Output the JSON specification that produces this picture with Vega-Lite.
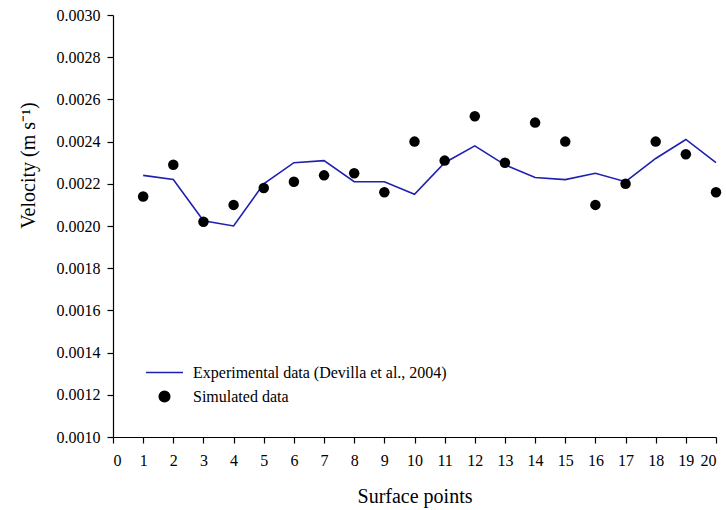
{
  "$schema": "https://vega.github.io/schema/vega-lite/v6.json",
  "width": 603,
  "height": 422,
  "autosize": {"type": "none"},
  "padding": {"left": 113, "top": 15, "right": 10, "bottom": 73},
  "background": "white",
  "config": {
    "view": {"stroke": null},
    "font": "Liberation Serif",
    "axis": {
      "grid": false,
      "domainColor": "black",
      "tickColor": "black",
      "labelColor": "black",
      "titleColor": "black",
      "labelFont": "Liberation Serif",
      "titleFont": "Liberation Serif",
      "labelFontSize": 16,
      "titleFontSize": 20,
      "titleFontWeight": "normal",
      "tickSize": 6,
      "domainWidth": 1.2,
      "tickWidth": 1.2
    },
    "legend": {
      "labelFont": "Liberation Serif",
      "labelFontSize": 16,
      "labelColor": "black",
      "labelLimit": 0
    }
  },
  "data": {
    "values": [
      {"x": 1, "v": 0.00224, "series": "Experimental data (Devilla et al., 2004)"},
      {"x": 2, "v": 0.00222, "series": "Experimental data (Devilla et al., 2004)"},
      {"x": 3, "v": 0.002025, "series": "Experimental data (Devilla et al., 2004)"},
      {"x": 4, "v": 0.0020, "series": "Experimental data (Devilla et al., 2004)"},
      {"x": 5, "v": 0.0022, "series": "Experimental data (Devilla et al., 2004)"},
      {"x": 6, "v": 0.0023, "series": "Experimental data (Devilla et al., 2004)"},
      {"x": 7, "v": 0.00231, "series": "Experimental data (Devilla et al., 2004)"},
      {"x": 8, "v": 0.00221, "series": "Experimental data (Devilla et al., 2004)"},
      {"x": 9, "v": 0.00221, "series": "Experimental data (Devilla et al., 2004)"},
      {"x": 10, "v": 0.00215, "series": "Experimental data (Devilla et al., 2004)"},
      {"x": 11, "v": 0.0023, "series": "Experimental data (Devilla et al., 2004)"},
      {"x": 12, "v": 0.00238, "series": "Experimental data (Devilla et al., 2004)"},
      {"x": 13, "v": 0.00229, "series": "Experimental data (Devilla et al., 2004)"},
      {"x": 14, "v": 0.00223, "series": "Experimental data (Devilla et al., 2004)"},
      {"x": 15, "v": 0.00222, "series": "Experimental data (Devilla et al., 2004)"},
      {"x": 16, "v": 0.00225, "series": "Experimental data (Devilla et al., 2004)"},
      {"x": 17, "v": 0.00221, "series": "Experimental data (Devilla et al., 2004)"},
      {"x": 18, "v": 0.00232, "series": "Experimental data (Devilla et al., 2004)"},
      {"x": 19, "v": 0.00241, "series": "Experimental data (Devilla et al., 2004)"},
      {"x": 20, "v": 0.0023, "series": "Experimental data (Devilla et al., 2004)"},
      {"x": 1, "v": 0.00214, "series": "Simulated data"},
      {"x": 2, "v": 0.00229, "series": "Simulated data"},
      {"x": 3, "v": 0.00202, "series": "Simulated data"},
      {"x": 4, "v": 0.0021, "series": "Simulated data"},
      {"x": 5, "v": 0.00218, "series": "Simulated data"},
      {"x": 6, "v": 0.00221, "series": "Simulated data"},
      {"x": 7, "v": 0.00224, "series": "Simulated data"},
      {"x": 8, "v": 0.00225, "series": "Simulated data"},
      {"x": 9, "v": 0.00216, "series": "Simulated data"},
      {"x": 10, "v": 0.0024, "series": "Simulated data"},
      {"x": 11, "v": 0.00231, "series": "Simulated data"},
      {"x": 12, "v": 0.00252, "series": "Simulated data"},
      {"x": 13, "v": 0.0023, "series": "Simulated data"},
      {"x": 14, "v": 0.00249, "series": "Simulated data"},
      {"x": 15, "v": 0.0024, "series": "Simulated data"},
      {"x": 16, "v": 0.0021, "series": "Simulated data"},
      {"x": 17, "v": 0.0022, "series": "Simulated data"},
      {"x": 18, "v": 0.0024, "series": "Simulated data"},
      {"x": 19, "v": 0.00234, "series": "Simulated data"},
      {"x": 20, "v": 0.00216, "series": "Simulated data"}
    ]
  },
  "encoding": {
    "x": {
      "field": "x",
      "type": "quantitative",
      "scale": {"domain": [0, 20], "nice": false, "zero": false},
      "axis": {
        "values": [0, 1, 2, 3, 4, 5, 6, 7, 8, 9, 10, 11, 12, 13, 14, 15, 16, 17, 18, 19, 20],
        "title": "Surface points",
        "labelAngle": 0,
        "labelPadding": 9,
        "titlePadding": 18
      }
    },
    "y": {
      "field": "v",
      "type": "quantitative",
      "scale": {"domain": [0.001, 0.003], "nice": false, "zero": false},
      "axis": {
        "values": [0.001, 0.0012, 0.0014, 0.0016, 0.0018, 0.002, 0.0022, 0.0024, 0.0026, 0.0028, 0.003],
        "format": ".4f",
        "labelPadding": 7,
        "title": "Velocity (m s⁻¹)",
        "titleX": -75,
        "titleY": 150
      }
    }
  },
  "layer": [
    {
      "transform": [{"filter": "datum.series === 'Experimental data (Devilla et al., 2004)'"}],
      "mark": {"type": "line", "strokeWidth": 1.6},
      "encoding": {
        "color": {
          "field": "series",
          "type": "nominal",
          "scale": {"domain": ["Experimental data (Devilla et al., 2004)", "Simulated data"], "range": ["#1f1fb0", "#000000"]},
          "legend": {
            "orient": "none",
            "legendX": 32,
            "legendY": 350,
            "title": null,
            "labelOffset": 9,
            "rowPadding": 7,
            "clipHeight": 15,
            "labelLimit": 0,
            "encode": {
              "symbols": {
                "update": {
                  "stroke": {"scale": "color", "field": "value"},
                  "strokeWidth": {"value": 1.6}
                }
              }
            }
          }
        }
      }
    },
    {
      "transform": [{"filter": "datum.series === 'Simulated data'"}],
      "mark": {"type": "point", "filled": true, "opacity": 1},
      "encoding": {
        "color": {
          "field": "series",
          "type": "nominal",
          "scale": {"domain": ["Experimental data (Devilla et al., 2004)", "Simulated data"], "range": ["#1f1fb0", "#000000"]}
        },
        "shape": {
          "field": "series",
          "type": "nominal",
          "scale": {"domain": ["Experimental data (Devilla et al., 2004)", "Simulated data"], "range": ["stroke", "circle"]}
        },
        "size": {
          "field": "series",
          "type": "nominal",
          "scale": {"domain": ["Experimental data (Devilla et al., 2004)", "Simulated data"], "range": [1369, 110]}
        }
      }
    }
  ]
}
